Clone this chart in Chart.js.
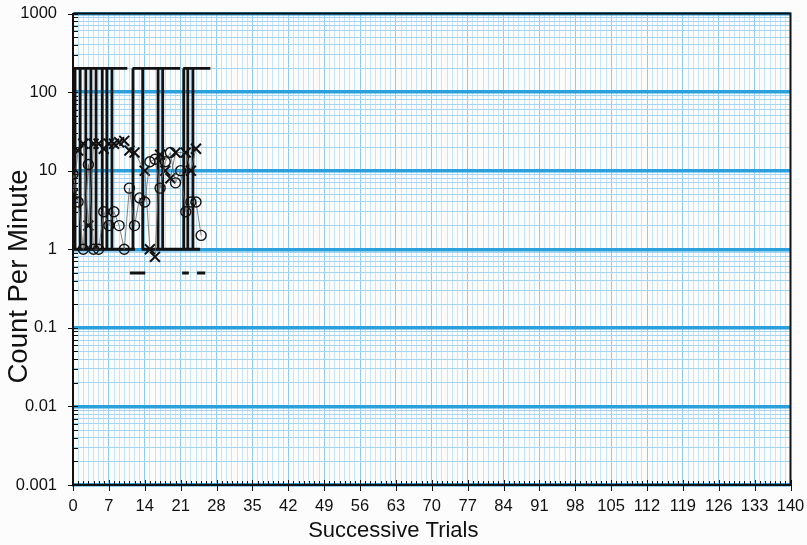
<!DOCTYPE html>
<html>
<head>
<meta charset="utf-8">
<script src="https://cdn.jsdelivr.net/npm/chart.js@4.4.1/dist/chart.umd.min.js"></script>
<style>
  html, body { margin: 0; padding: 0; background: #fcfcfd; }
  #wrap { width: 807px; height: 545px; }
</style>
</head>
<body>
<div id="wrap"><canvas id="c" width="807" height="545"></canvas></div>
<script>
// Session data: trial number and count per minute
const circleTrials = [0, 1, 2, 3, 4, 5, 6, 7, 8, 9, 10, 11, 12, 13, 14, 15, 16, 17, 18, 19, 20, 21, 22, 23, 24, 25];
const circleCounts = [9, 4, 1, 12, 1, 1, 3, 2, 3, 2, 1, 6, 2, 4.5, 4, 13, 14, 6, 13, 17, 7, 10, 3, 4, 4, 1.5];

const crossTrials = [0, 1, 2, 3, 4, 5, 6, 7, 8, 9, 10, 11, 12, 14, 15, 16, 17, 18, 19, 20, 22, 23, 24];
const crossCounts = [5, 18, 22, 2, 22, 22, 19, 22, 22, 23, 24, 18, 17, 10, 1, 0.8, 16, 10, 8, 17, 17, 10, 19];

// Record ceiling / floor brackets
const ceilingValue = 200;
const floorValue = 1;
const phaseLineTrials = [0.4, 1.4, 2.5, 3.5, 4.5, 5.7, 6.6, 7.6, 11.7, 13.6, 16.6, 17.5, 21.6, 22.4, 23.4];
const ceilingSpans = [[0, 10.6], [11.6, 20.9], [21.5, 26.8]];
const floorSpans = [[0, 12.1], [13.4, 24.8]];

// Half-minute timing floors
const timingFloorValue = 0.5;
const timingFloorSpans = [[11.1, 14.1], [21.3, 22.6], [24.2, 25.8]];

// Axis ticks and titles
const xMax = 140;
const xLabelStep = 7;
const yDecades = [0.001, 0.01, 0.1, 1, 10, 100, 1000];
const xTitle = 'Successive Trials';
const yTitle = 'Count Per Minute';

const FONT = '"Liberation Sans", Arial, Helvetica, sans-serif';

function zipPoints(xs, ys) {
  return xs.map((x, i) => ({ x: x, y: ys[i] }));
}

const bracketPoints = [];
phaseLineTrials.forEach(t => bracketPoints.push({ x: t, y: floorValue }, { x: t, y: ceilingValue }, { x: t, y: null }));
ceilingSpans.forEach(([a, b]) => bracketPoints.push({ x: a, y: ceilingValue }, { x: b, y: ceilingValue }, { x: b, y: null }));
floorSpans.forEach(([a, b]) => bracketPoints.push({ x: a, y: floorValue }, { x: b, y: floorValue }, { x: b, y: null }));

const timingPoints = [];
timingFloorSpans.forEach(([a, b]) => timingPoints.push({ x: a, y: timingFloorValue }, { x: b, y: timingFloorValue }, { x: b, y: null }));

function isDecade(v) {
  const l = Math.log10(v);
  return Math.abs(l - Math.round(l)) < 1e-9;
}

// Minor tick marks, the outer frame and the axis titles
const frameAndTicks = {
  id: 'frameAndTicks',
  afterDraw(chart) {
    const { ctx, chartArea: a, scales: { x, y } } = chart;
    ctx.save();
    ctx.strokeStyle = '#111';
    ctx.lineWidth = 1;
    ctx.beginPath();
    for (let t = 0; t <= xMax; t++) {
      const px = Math.round(x.getPixelForValue(t)) + 0.5;
      if (t % xLabelStep === 0) {
        ctx.moveTo(px, a.bottom - 5); ctx.lineTo(px, a.bottom + 6);
      } else {
        ctx.moveTo(px, a.bottom - 4); ctx.lineTo(px, a.bottom);
      }
    }
    y.ticks.forEach(tk => {
      const py = Math.round(y.getPixelForValue(tk.value)) + 0.5;
      if (isDecade(tk.value)) {
        ctx.moveTo(a.left - 5, py); ctx.lineTo(a.left + 5, py);
      } else {
        ctx.moveTo(a.left, py); ctx.lineTo(a.left + 5, py);
      }
    });
    ctx.stroke();
    ctx.lineWidth = 2;
    ctx.beginPath();
    ctx.moveTo(a.left, a.top); ctx.lineTo(a.right, a.top); ctx.lineTo(a.right, a.bottom);
    ctx.stroke();

    ctx.fillStyle = '#111';
    ctx.textAlign = 'center';
    ctx.textBaseline = 'middle';
    ctx.font = '22px ' + FONT;
    ctx.fillText(xTitle, x.getPixelForValue(62.5), 531);
    ctx.translate(19, y.getPixelForValue(0.45));
    ctx.rotate(-Math.PI / 2);
    ctx.font = '27.5px ' + FONT;
    ctx.fillText(yTitle, 0, 0);
    ctx.restore();
  }
};

new Chart(document.getElementById('c'), {
  type: 'line',
  data: {
    datasets: [
      {
        data: zipPoints(circleTrials, circleCounts),
        borderColor: '#666',
        borderWidth: 0.8,
        pointStyle: 'circle',
        pointRadius: 5,
        pointBorderColor: '#111',
        pointBorderWidth: 1.4,
        pointBackgroundColor: 'rgba(0,0,0,0)',
        order: 1
      },
      {
        data: zipPoints(crossTrials, crossCounts),
        borderColor: '#666',
        borderWidth: 0.8,
        pointStyle: 'crossRot',
        pointRadius: 7,
        pointBorderColor: '#111',
        pointBorderWidth: 2,
        order: 2
      },
      {
        data: bracketPoints,
        borderColor: '#111',
        borderWidth: 2.8,
        pointRadius: 0,
        spanGaps: false,
        order: 3
      },
      {
        data: timingPoints,
        borderColor: '#111',
        borderWidth: 3,
        pointRadius: 0,
        spanGaps: false,
        order: 3
      }
    ]
  },
  options: {
    responsive: false,
    animation: false,
    events: [],
    layout: { padding: { left: 0, right: 16.5, top: 13.5, bottom: 0 } },
    plugins: { legend: { display: false }, tooltip: { enabled: false } },
    scales: {
      x: {
        type: 'linear',
        min: 0,
        max: xMax,
        afterBuildTicks(scale) {
          const ticks = [];
          for (let t = 0; t <= xMax; t++) ticks.push({ value: t });
          scale.ticks = ticks;
        },
        afterFit(scale) {
          scale.height = 60;
          scale.paddingLeft = 0;
          scale.paddingRight = 0;
        },
        ticks: {
          autoSkip: false,
          maxRotation: 0,
          minRotation: 0,
          padding: 12,
          color: '#111',
          font: { family: FONT, size: 16.5 },
          callback: v => (v % xLabelStep === 0 ? String(v) : '')
        },
        grid: {
          drawTicks: false,
          color: ctx => (ctx.tick && ctx.tick.value % xLabelStep === 0 ? '#8fcbef' : '#c6e5f8'),
          lineWidth: 1
        },
        border: { display: true, color: '#111', width: 2 }
      },
      y: {
        type: 'logarithmic',
        min: 0.001,
        max: 1000,
        afterBuildTicks(scale) {
          const ticks = [];
          for (let e = -3; e <= 2; e++) {
            for (let m = 1; m <= 9; m++) ticks.push({ value: m * Math.pow(10, e) });
          }
          ticks.push({ value: 1000 });
          scale.ticks = ticks;
        },
        afterFit(scale) {
          scale.width = 73;
          scale.paddingTop = 0;
          scale.paddingBottom = 0;
        },
        ticks: {
          autoSkip: false,
          padding: 16,
          color: '#111',
          font: { family: FONT, size: 16.5 },
          callback: v => {
            const d = yDecades.find(dv => Math.abs(dv - v) / dv < 1e-9);
            return d !== undefined ? String(d) : '';
          }
        },
        grid: {
          drawTicks: false,
          color: ctx => (ctx.tick && isDecade(ctx.tick.value) ? '#2aa0dc' : '#a5d5f1'),
          lineWidth: ctx => (ctx.tick && isDecade(ctx.tick.value) ? 3.5 : 1)
        },
        border: { display: true, color: '#111', width: 2 }
      }
    }
  },
  plugins: [frameAndTicks]
});
</script>
</body>
</html>
